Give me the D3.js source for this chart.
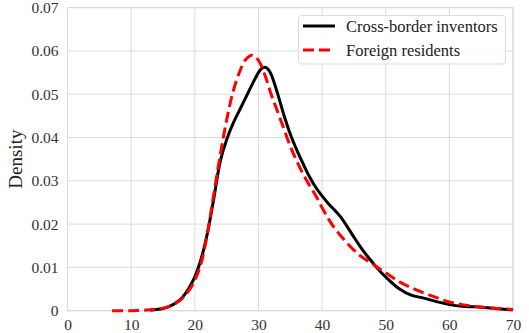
<!DOCTYPE html>
<html><head><meta charset="utf-8">
<script src="https://cdn.jsdelivr.net/npm/d3@7"></script>
<style>body{margin:0;background:#fff}svg{display:block}</style>
</head><body>
<script>
const seriesNames = ["Cross-border inventors", "Foreign residents"];
const blackX = [13,15,16,17,18,19,20,21,22,23,24,25,26,27,28,29,30,30.5,31,31.5,32,33,34,35,36,37,38,39,40,41,42,43,44,45,46,47,48,49,50,52,54,56,58,60,62,64,66,68,70];
const blackY = [0.0001,0.0005,0.0010,0.0018,0.0030,0.0050,0.0078,0.0120,0.0180,0.0260,0.0345,0.0395,0.0432,0.0462,0.0492,0.0522,0.0550,0.0559,0.0562,0.0558,0.0546,0.0502,0.0452,0.0408,0.0372,0.0340,0.0310,0.0285,0.0265,0.0247,0.0232,0.0215,0.0193,0.0170,0.0148,0.0128,0.0110,0.0093,0.0078,0.0052,0.0036,0.0029,0.0021,0.0014,0.0010,0.0009,0.0007,0.0004,0.0002];
const redX = [7,10,13,15,16,17,18,19,20,21,22,23,24,25,26,27,28,29,30,31,32,33,34,35,36,37,38,39,40,41,42,43,44,45,46,47,48,49,50,52,54,56,58,60,62,64,66,68,70];
const redY = [0,0,0.0002,0.0006,0.0010,0.0017,0.0028,0.0045,0.0070,0.0110,0.0180,0.0270,0.0360,0.0440,0.0505,0.0550,0.0580,0.0590,0.0578,0.0545,0.0500,0.0460,0.0420,0.0380,0.0346,0.0316,0.0290,0.0266,0.0238,0.0212,0.0190,0.0172,0.0155,0.0140,0.0127,0.0117,0.0107,0.0097,0.0088,0.0068,0.0053,0.0041,0.0030,0.0020,0.0014,0.0010,0.0007,0.0005,0.0003];
const xTicks = [0,10,20,30,40,50,60,70];
const yTicks = [0,0.01,0.02,0.03,0.04,0.05,0.06,0.07];
const yTickLabels = ["0","0.01","0.02","0.03","0.04","0.05","0.06","0.07"];

const W = 529, H = 333;
const m = {l: 67.5, r: 16, t: 7.6, b: 22.3};
const font = "'Liberation Serif', 'DejaVu Serif', serif";
const svg = d3.select("body").append("svg").attr("width", W).attr("height", H);
const x = d3.scaleLinear().domain([0,70]).range([m.l, W - m.r]);
const y = d3.scaleLinear().domain([0,0.07]).range([H - m.b, m.t]);

const grid = svg.append("g");
grid.selectAll(".gx").data(xTicks).join("line")
  .attr("x1", d => x(d)).attr("x2", d => x(d)).attr("y1", y(0)).attr("y2", y(0.07))
  .attr("stroke", "#dcdcdc").attr("stroke-width", 1);
grid.selectAll(".gy").data(yTicks).join("line")
  .attr("y1", d => y(d)).attr("y2", d => y(d)).attr("x1", x(0)).attr("x2", x(70))
  .attr("stroke", "#dcdcdc").attr("stroke-width", 1);
svg.append("rect").attr("x", x(0)).attr("y", y(0.07)).attr("width", x(70)-x(0)).attr("height", y(0)-y(0.07))
  .attr("fill", "none").attr("stroke", "#dcdcdc").attr("stroke-width", 1.2);

const xAxis = svg.append("g").attr("transform", `translate(0,${y(0)})`)
  .call(d3.axisBottom(x).tickValues(xTicks).tickSize(0).tickPadding(8));
const yAxis = svg.append("g").attr("transform", `translate(${x(0)},0)`)
  .call(d3.axisLeft(y).tickValues(yTicks).tickSize(0).tickPadding(9).tickFormat((d,i) => yTickLabels[i]));
[xAxis, yAxis].forEach(a => {
  a.select(".domain").remove();
  a.selectAll("text").attr("font-family", font).attr("font-size", 15.5).attr("fill", "#333");
});

svg.append("text").attr("transform", `translate(22,${(y(0)+y(0.07))/2}) rotate(-90)`)
  .attr("text-anchor", "middle").attr("font-family", font).attr("font-size", 19).attr("fill", "#222").text("Density");

const line = d3.line().x(d => x(d[0])).y(d => y(d[1])).curve(d3.curveCatmullRom.alpha(0.5));
const plot = svg.append("g");
plot.append("path").datum(blackX.map((v,i) => [v, blackY[i]])).attr("d", line)
  .attr("fill", "none").attr("stroke", "#000").attr("stroke-width", 3);
plot.append("path").datum(redX.map((v,i) => [v, redY[i]])).attr("d", line)
  .attr("fill", "none").attr("stroke", "#ff0000").attr("stroke-width", 3).attr("stroke-dasharray", "11,5");

const lg = svg.append("g");
lg.append("rect").attr("x", 298.5).attr("y", 15.5).attr("width", 207).attr("height", 48.5).attr("rx", 3)
  .attr("fill", "#fff").attr("fill-opacity", 0.85).attr("stroke", "#dcdcdc").attr("stroke-width", 1);
const items = [{c:"#000", dash:null}, {c:"#ff0000", dash:"11,5"}];
items.forEach((it, i) => {
  const yy = 26 + i*24;
  lg.append("line").attr("x1", 303).attr("x2", 335).attr("y1", yy).attr("y2", yy)
    .attr("stroke", it.c).attr("stroke-width", 3).attr("stroke-dasharray", it.dash);
  lg.append("text").attr("x", 346).attr("y", yy).attr("dy", "0.35em").attr("font-family", font)
    .attr("font-size", 16.5).attr("fill", "#222").text(seriesNames[i]);
});
</script>
</body></html>
